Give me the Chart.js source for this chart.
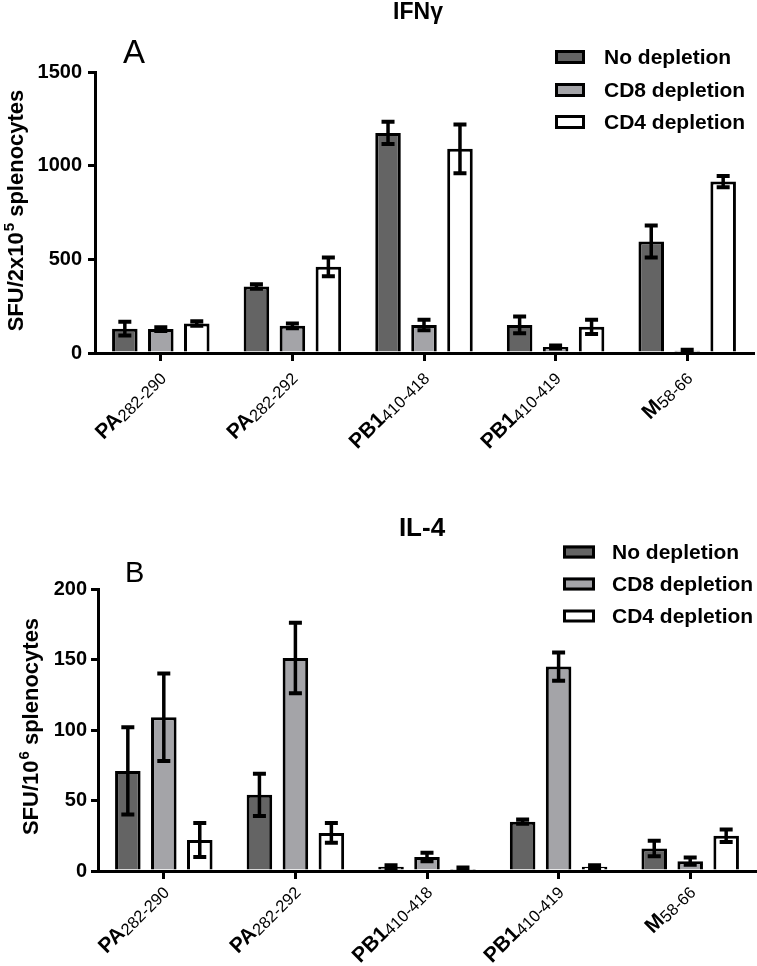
<!DOCTYPE html>
<html><head><meta charset="utf-8">
<script src="https://cdn.jsdelivr.net/npm/chart.js@4.4.1/dist/chart.umd.min.js"></script>
<style>
html,body{margin:0;padding:0;background:#fff;}
#wrap{position:relative;width:757px;height:966px;background:#fff;}
canvas{position:absolute;left:0;}
</style></head><body>
<div id="wrap">
<canvas id="c1" width="757" height="470" style="top:0px"></canvas>
<canvas id="c2" width="757" height="496" style="top:470px"></canvas>
</div>
<script>
// ---- data ----
const categories = ['PA', 'PA', 'PB1', 'PB1', 'M'];
const categorySubs = ['282-290', '282-292', '410-418', '410-419', '58-66'];
const seriesNames = ['No depletion', 'CD8 depletion', 'CD4 depletion'];
const seriesColors = ['#646464', '#a4a4a8', '#ffffff'];

const ifnNoDep = [130, 355, 1175, 150, 595];
const ifnNoDepErr = [37, 12, 60, 45, 85];
const ifnCD8 = [128, 145, 150, 32, 12];
const ifnCD8Err = [10, 13, 28, 8, 5];
const ifnCD4 = [157, 460, 1090, 140, 915];
const ifnCD4Err = [12, 50, 130, 38, 30];
const ifnTicks = [0, 500, 1000, 1500];

const il4NoDep = [71, 54, 3, 35, 16];
const il4NoDepErr = [31, 15, 1, 1.5, 5.5];
const il4CD8 = [109, 151, 10, 145, 7];
const il4CD8Err = [31, 25, 3, 10, 2.5];
const il4CD4 = [22, 27, 1.5, 3, 25];
const il4CD4Err = [12, 7, 1, 1, 4.5];
const il4Ticks = [0, 50, 100, 150, 200];

const FONT = '"Liberation Sans", Arial, sans-serif';

const errorBars = {
  id: 'errorBars',
  afterDatasetsDraw(chart) {
    const ctx = chart.ctx, y = chart.scales.y;
    chart.data.datasets.forEach((ds, i) => {
      const meta = chart.getDatasetMeta(i);
      meta.data.forEach((bar, j) => {
        const v = ds.data[j], e = ds.errors[j];
        const yt = y.getPixelForValue(v + e), yb = y.getPixelForValue(Math.max(0, v - e));
        const x = bar.x;
        ctx.save();
        ctx.strokeStyle = '#000';
        ctx.lineWidth = 3.5;
        ctx.beginPath(); ctx.moveTo(x, yt); ctx.lineTo(x, yb); ctx.stroke();
        ctx.lineWidth = 4;
        ctx.beginPath();
        ctx.moveTo(x - 6.5, yt); ctx.lineTo(x + 6.5, yt);
        ctx.moveTo(x - 6.5, yb); ctx.lineTo(x + 6.5, yb);
        ctx.stroke();
        ctx.restore();
      });
    });
  }
};

const deco = {
  id: 'deco',
  afterDraw(chart, args, o) {
    const ctx = chart.ctx;
    ctx.save();
    ctx.fillStyle = '#000';
    // title
    ctx.font = 'bold ' + o.titleSize + 'px ' + FONT;
    ctx.textAlign = 'center'; ctx.textBaseline = 'alphabetic';
    ctx.fillText(o.title, o.titleX, o.titleY);
    // panel letter
    ctx.font = o.letterSize + 'px ' + FONT;
    ctx.textAlign = 'left';
    ctx.fillText(o.letter, o.letterX, o.letterY);
    // legend
    chart.data.datasets.forEach((ds, i) => {
      const cy = o.legRows[i];
      ctx.fillStyle = ds.backgroundColor;
      ctx.fillRect(o.legX, cy - o.legH / 2, o.legW, o.legH);
      ctx.strokeStyle = '#000'; ctx.lineWidth = 3;
      ctx.strokeRect(o.legX + 1.5, cy - o.legH / 2 + 1.5, o.legW - 3, o.legH - 3);
      ctx.fillStyle = '#000';
      ctx.font = 'bold 21px ' + FONT;
      ctx.textAlign = 'left'; ctx.textBaseline = 'middle';
      ctx.fillText(ds.label, o.legTextX, cy + 1);
    });
    // y title with superscript
    ctx.save();
    ctx.translate(o.yTitleX, o.yTitleY);
    ctx.rotate(-Math.PI / 2);
    ctx.textBaseline = 'alphabetic'; ctx.textAlign = 'left';
    ctx.font = 'bold 22px ' + FONT;
    const w1 = ctx.measureText(o.yTitle[0]).width;
    const w3 = ctx.measureText(o.yTitle[2]).width;
    ctx.font = 'bold 15px ' + FONT;
    const w2 = ctx.measureText(o.yTitle[1]).width;
    let x0 = -(w1 + w2 + w3) / 2;
    ctx.font = 'bold 22px ' + FONT;
    ctx.fillText(o.yTitle[0], x0, 0);
    ctx.font = 'bold 15px ' + FONT;
    ctx.fillText(o.yTitle[1], x0 + w1 + 1, -9);
    ctx.font = 'bold 22px ' + FONT;
    ctx.fillText(o.yTitle[2], x0 + w1 + w2 + 1, 0);
    ctx.restore();
    // x labels
    const xs = chart.scales.x, base = chart.chartArea.bottom;
    categories.forEach((c, i) => {
      const tx = xs.getPixelForTick(i);
      ctx.save();
      ctx.translate(tx + o.lblDx, base + o.lblDy);
      ctx.rotate(-Math.PI / 4);
      ctx.textAlign = 'left'; ctx.textBaseline = 'alphabetic';
      ctx.font = 'bold 21px ' + FONT;
      const a = ctx.measureText(c).width;
      ctx.font = '16.5px ' + FONT;
      const b = ctx.measureText(categorySubs[i]).width;
      ctx.font = 'bold 21px ' + FONT;
      ctx.fillText(c, -(a + b), 0);
      ctx.font = '16.5px ' + FONT;
      ctx.fillText(categorySubs[i], -b, 2);
      ctx.restore();
    });
    ctx.restore();
  }
};

function makeChart(id, sets, ticks, geo, decoOpts) {
  const datasets = sets.map((s, i) => ({
    label: seriesNames[i],
    data: s[0],
    errors: s[1],
    backgroundColor: seriesColors[i],
    borderColor: '#000',
    borderWidth: 3,
    borderSkipped: 'start',
    categoryPercentage: 0.82,
    barPercentage: 0.71
  }));
  return new Chart(document.getElementById(id), {
    type: 'bar',
    data: { labels: categories.map((c, i) => c + categorySubs[i]), datasets },
    options: {
      responsive: false,
      animation: false,
      devicePixelRatio: 1,
      layout: { padding: { left: 0, right: geo.right, top: geo.top, bottom: 0 } },
      plugins: { legend: { display: false }, tooltip: { enabled: false }, deco: decoOpts },
      scales: {
        x: {
          ticks: { display: false },
          grid: { display: true, drawOnChartArea: false, drawTicks: true, offset: false,
                  tickLength: 8, color: '#000', lineWidth: 3 },
          border: { display: true, color: '#000', width: 3 },
          afterFit(s) { s.height = geo.xHeight; }
        },
        y: {
          min: ticks[0], max: ticks[ticks.length - 1],
          afterBuildTicks(s) { s.ticks = ticks.map(v => ({ value: v })); },
          ticks: { color: '#000', padding: geo.tickPad, font: { family: FONT, size: 20, weight: 'bold' },
                   callback: v => String(v) },
          grid: { display: true, drawOnChartArea: false, drawTicks: true, tickLength: 7, color: '#000', lineWidth: 3 },
          border: { display: true, color: '#000', width: 3 },
          afterFit(s) { s.width = geo.yWidth; }
        }
      }
    },
    plugins: [errorBars, deco]
  });
}

makeChart('c1',
  [[ifnNoDep, ifnNoDepErr], [ifnCD8, ifnCD8Err], [ifnCD4, ifnCD4Err]],
  ifnTicks,
  { right: 4, top: 72, xHeight: 117, yWidth: 95, tickPad: 6 },
  { title: 'IFNγ', titleSize: 23, titleX: 418, titleY: 19,
    letter: 'A', letterSize: 33, letterX: 123, letterY: 63,
    legX: 555, legW: 30, legH: 14, legRows: [57, 90, 122], legTextX: 604,
    yTitle: ['SFU/2x10', '5', ' splenocytes'], yTitleX: 23, yTitleY: 211,
    lblDx: 5, lblDy: 25 });

makeChart('c2',
  [[il4NoDep, il4NoDepErr], [il4CD8, il4CD8Err], [il4CD4, il4CD4Err]],
  il4Ticks,
  { right: 1, top: 119, xHeight: 95, yWidth: 98, tickPad: 4 },
  { title: 'IL-4', titleSize: 26, titleX: 422, titleY: 66,
    letter: 'B', letterSize: 29, letterX: 125, letterY: 112,
    legX: 563, legW: 32, legH: 13, legRows: [82, 114, 146], legTextX: 612,
    yTitle: ['SFU/10', '6', ' splenocytes'], yTitleX: 38, yTitleY: 257,
    lblDx: 5, lblDy: 21 });
</script>
</body></html>
